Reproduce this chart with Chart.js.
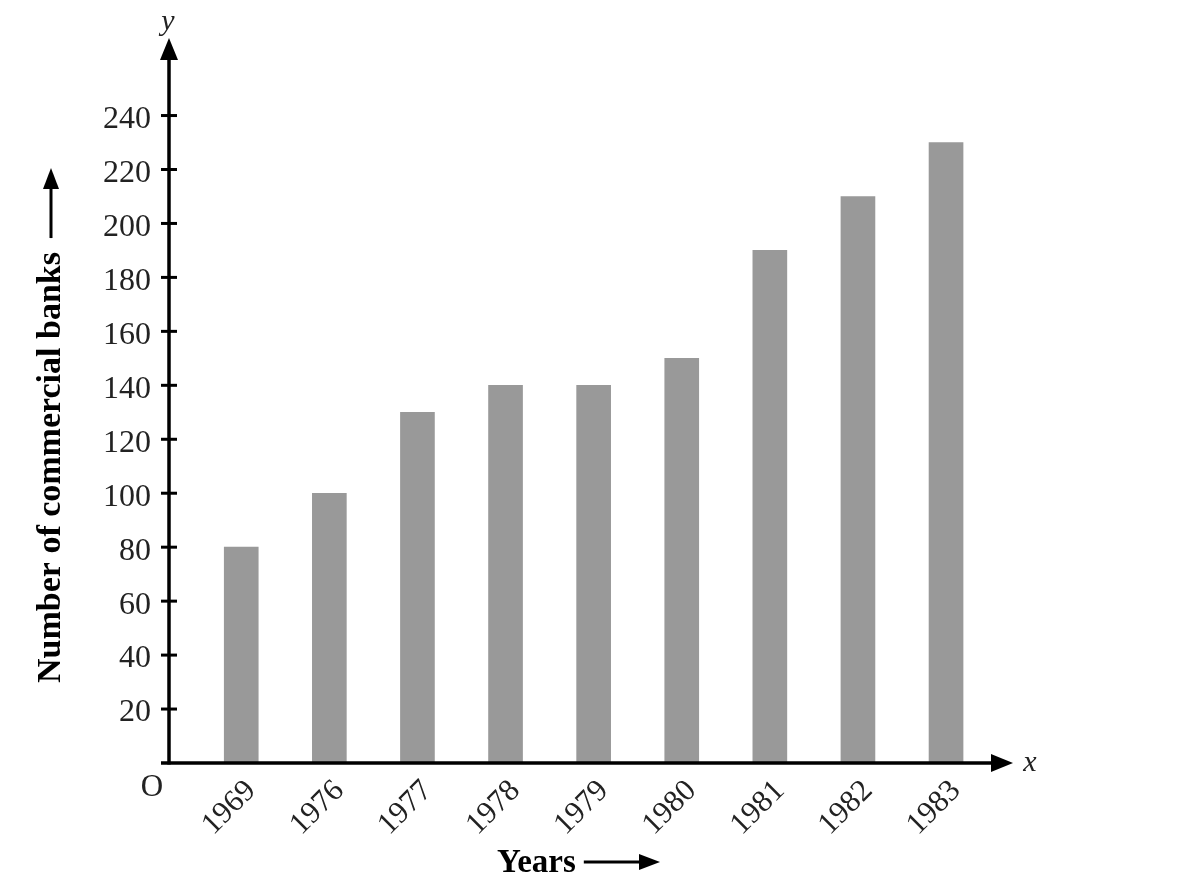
<!DOCTYPE html>
<html><head><meta charset="utf-8">
<script src="https://cdn.jsdelivr.net/npm/chart.js@4/dist/chart.umd.min.js"></script>
<style>html,body{margin:0;padding:0;background:#fff}#wrap{width:1191px;height:876px;position:relative}</style>
</head><body><div id="wrap"><canvas id="c" width="1191" height="876"></canvas></div>
<script>
const years = ['1969','1976','1977','1978','1979','1980','1981','1982','1983'];
const banks = [80,100,130,140,140,150,190,210,230];
const yTicks = [20,40,60,80,100,120,140,160,180,200,220,240];
const yMax = 268;
const xMin = -0.82, xMax = 8.76;
const xTitle = 'Years';
const yTitle = 'Number of commercial banks';

const SERIF = '"Liberation Serif", "DejaVu Serif", serif';

function arrow(ctx, x1, y1, x2, y2, head, half) {
  const ang = Math.atan2(y2 - y1, x2 - x1);
  const bx = x2 - head * Math.cos(ang), by = y2 - head * Math.sin(ang);
  ctx.beginPath(); ctx.moveTo(x1, y1); ctx.lineTo(bx, by); ctx.stroke();
  ctx.beginPath();
  ctx.moveTo(x2, y2);
  ctx.lineTo(bx + half * Math.sin(ang), by - half * Math.cos(ang));
  ctx.lineTo(bx - half * Math.sin(ang), by + half * Math.cos(ang));
  ctx.closePath(); ctx.fill();
}

const axesPlugin = {
  id: 'axesPlugin',
  afterDraw(chart) {
    const ctx = chart.ctx, xs = chart.scales.x, ys = chart.scales.y;
    const ax = xs.getPixelForValue(xMin);
    const ay = ys.getPixelForValue(0);
    ctx.save();
    ctx.strokeStyle = '#000'; ctx.fillStyle = '#000'; ctx.lineWidth = 3.5; ctx.lineCap = 'butt';
    // y axis
    arrow(ctx, ax, ay + 1.5, ax, ys.top - 2, 22, 9);
    // x axis
    arrow(ctx, ax - 8, ay, xs.right, ay, 22, 9);
    // y tick marks
    ctx.lineWidth = 3;
    yTicks.forEach(v => {
      const p = ys.getPixelForValue(v);
      ctx.beginPath(); ctx.moveTo(ax - 8, p); ctx.lineTo(ax + 8, p); ctx.stroke();
    });
    // labels O, x, y
    ctx.fillStyle = '#222';
    ctx.font = '31px ' + SERIF;
    ctx.textAlign = 'center'; ctx.textBaseline = 'middle';
    ctx.fillText('O', ax - 17, ay + 25);
    ctx.font = 'italic 30px ' + SERIF;
    ctx.fillText('y', ax - 1, 22);
    ctx.fillText('x', xs.right + 17, ay);
    // x title with arrow
    ctx.fillStyle = '#000';
    ctx.font = 'bold 33px ' + SERIF;
    ctx.textAlign = 'left';
    ctx.fillText(xTitle, 497, 863);
    const tw = ctx.measureText(xTitle).width;
    ctx.lineWidth = 3;
    arrow(ctx, 497 + tw + 8, 862, 660, 862, 21, 8);
    // y title with arrow
    ctx.save();
    ctx.translate(51, 683);
    ctx.rotate(-Math.PI / 2);
    ctx.font = 'bold 34px ' + SERIF;
    ctx.textAlign = 'left'; ctx.textBaseline = 'middle';
    ctx.fillText(yTitle, 0, 0);
    const yw = ctx.measureText(yTitle).width;
    arrow(ctx, yw + 14, 0, 683 - 168, 0, 21, 8);
    ctx.restore();
    ctx.restore();
  }
};

new Chart(document.getElementById('c'), {
  type: 'bar',
  data: {
    datasets: [{
      data: banks.map((v, i) => ({x: i, y: v})),
      backgroundColor: '#999999',
      borderWidth: 0,
      barThickness: 34
    }]
  },
  options: {
    responsive: false,
    animation: false,
    events: [],
    layout: {padding: {top: 40, right: 178, left: 0, bottom: 0}},
    plugins: {legend: {display: false}, tooltip: {enabled: false}},
    scales: {
      x: {
        type: 'linear', min: xMin, max: xMax, offset: false,
        grid: {display: false, drawTicks: false}, border: {display: false},
        afterBuildTicks(s) { s.ticks = years.map((_, i) => ({value: i})); },
        afterFit(s) { s.height = 113; },
        ticks: {
          autoSkip: false, minRotation: 45, maxRotation: 45, padding: 10, labelOffset: 10,
          color: '#222', font: {family: SERIF, size: 31},
          callback: (v) => years[v]
        }
      },
      y: {
        min: 0, max: yMax,
        grid: {display: false, drawTicks: false}, border: {display: false},
        afterBuildTicks(s) { s.ticks = yTicks.map(v => ({value: v})); },
        afterFit(s) { s.width = 169; },
        ticks: {padding: 18, labelOffset: 4, color: '#222', font: {family: SERIF, size: 32}}
      }
    }
  },
  plugins: [axesPlugin]
});
</script></body></html>
